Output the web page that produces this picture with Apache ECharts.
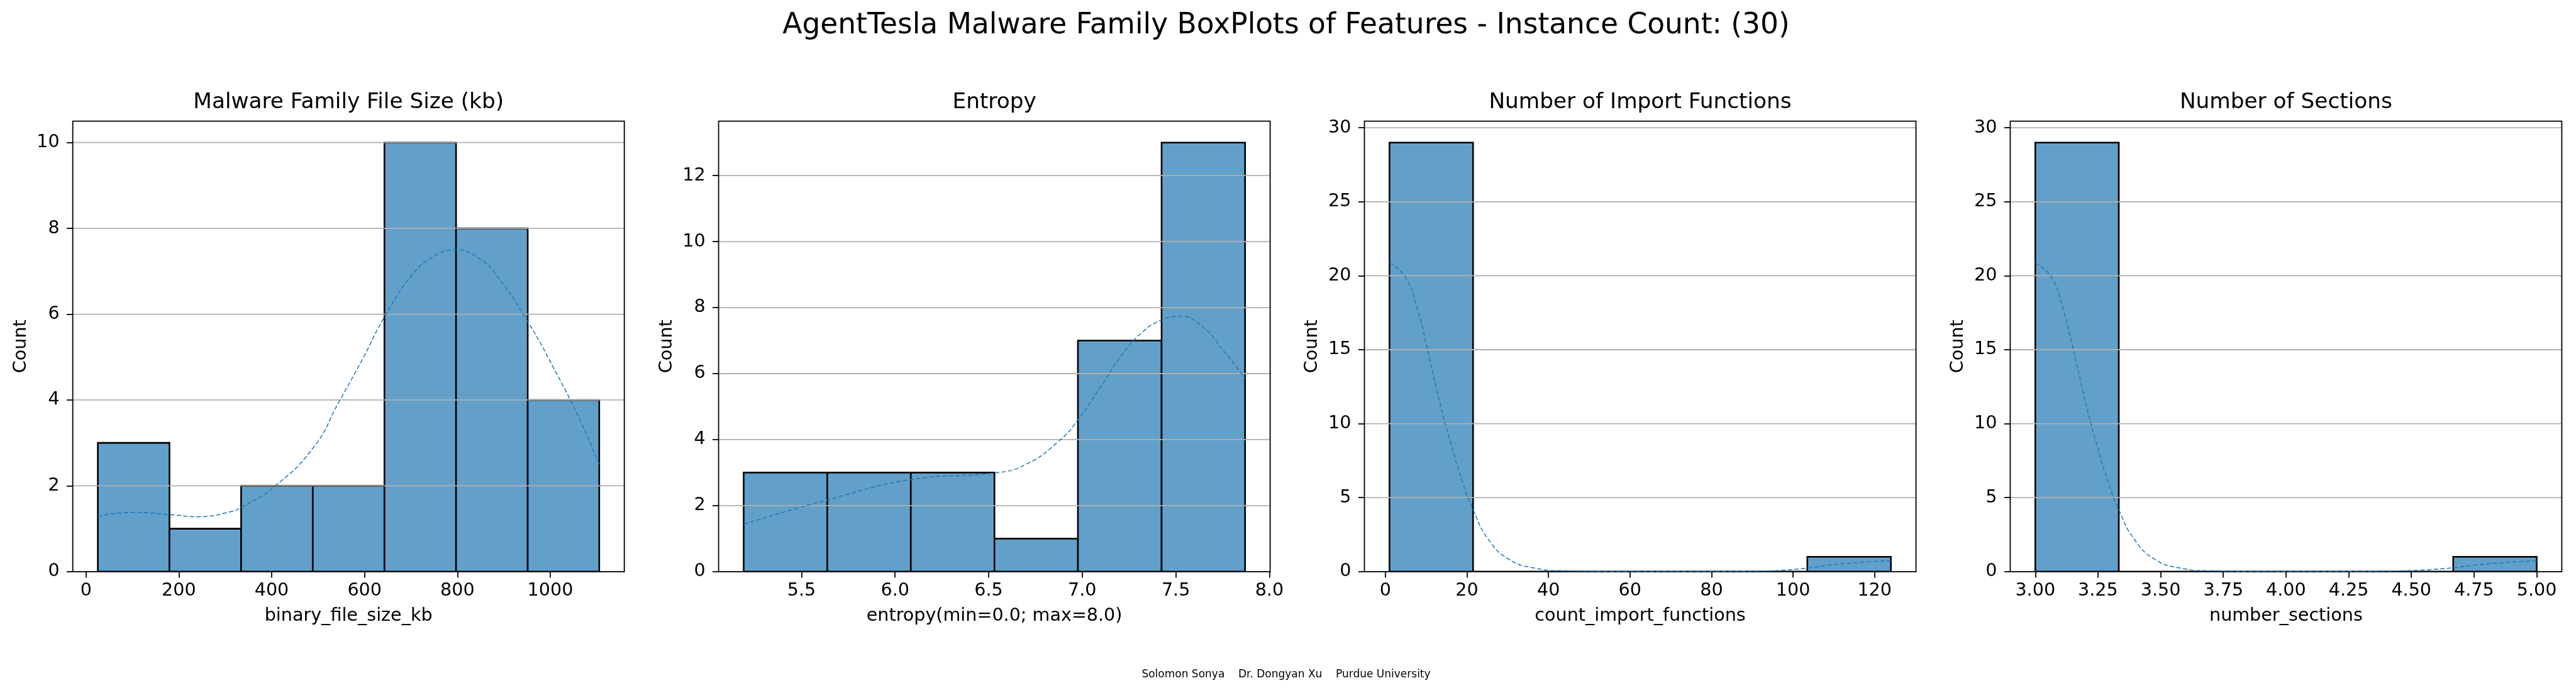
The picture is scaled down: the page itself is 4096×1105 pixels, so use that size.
<!DOCTYPE html>
<html><head><meta charset="utf-8">
<script src="https://cdn.jsdelivr.net/npm/echarts@6/dist/echarts.min.js"></script>
<style>html,body{margin:0;padding:0;background:#fff}#c{width:4096px;height:1105px}</style>
</head><body><div id="c"></div>
<script>
// ---------------- data ----------------
const mainTitle = 'AgentTesla Malware Family BoxPlots of Features - Instance Count: (30)';
const footerText = 'Solomon Sonya    Dr. Dongyan Xu    Purdue University';
const panelTitles = ['Malware Family File Size (kb)', 'Entropy', 'Number of Import Functions', 'Number of Sections'];
const xAxisNames = ['binary_file_size_kb', 'entropy(min=0.0; max=8.0)', 'count_import_functions', 'number_sections'];
const yAxisName = 'Count';

// histogram bin edges and counts
const fileSizeEdges = [25.5, 179.8, 334.1, 488.4, 642.8, 797.1, 951.4, 1105.5];
const fileSizeCounts = [3, 1, 2, 2, 10, 8, 4];
const entropyEdges = [5.191, 5.638, 6.084, 6.531, 6.977, 7.424, 7.870];
const entropyCounts = [3, 3, 3, 1, 7, 13];
const importEdges = [1, 21.5, 42, 62.5, 83, 103.5, 124];
const importCounts = [29, 0, 0, 0, 0, 1];
const sectionsEdges = [3.0, 3.333, 3.667, 4.0, 4.333, 4.667, 5.0];
const sectionsCounts = [29, 0, 0, 0, 0, 1];

// KDE curves
const fileSizeKdeX = [25.5, 100, 180, 242, 313, 335, 402, 489, 545, 598, 643, 705, 750, 796, 840, 885, 953, 1007, 1061, 1105.5];
const fileSizeKdeY = [1.28, 1.38, 1.33, 1.28, 1.40, 1.50, 1.95, 2.88, 3.96, 5.0, 5.94, 6.95, 7.35, 7.50, 7.35, 6.9, 5.8, 4.75, 3.6, 2.5];
const entropyKdeX = [5.191, 5.638, 6.084, 6.532, 6.70, 6.88, 6.977, 7.10, 7.21, 7.32, 7.422, 7.52, 7.63, 7.76, 7.870];
const entropyKdeY = [1.44, 2.17, 2.79, 2.99, 3.25, 3.98, 4.60, 5.61, 6.55, 7.25, 7.62, 7.74, 7.48, 6.66, 5.85];
const importKdeX = [1, 4.9, 8.0, 10.0, 13.1, 16.1, 19.1, 21.5, 25.2, 30.2, 36.4, 43.5, 60, 80, 92, 99, 104, 109.3, 119.4, 124];
const importKdeY = [20.86, 19.9, 17.6, 15.4, 11.7, 8.6, 5.9, 4.19, 2.2, 0.85, 0.25, 0.06, 0.02, 0.02, 0.04, 0.12, 0.26, 0.45, 0.68, 0.73];
const sectionsKdeX = [3.0, 3.064, 3.113, 3.146, 3.197, 3.245, 3.294, 3.333, 3.394, 3.475, 3.575, 3.69, 3.95, 4.25, 4.43, 4.559, 4.667, 4.76, 4.88, 5.0];
const sectionsKdeY = [20.86, 19.9, 17.6, 15.4, 11.7, 8.6, 5.9, 4.19, 2.2, 0.85, 0.25, 0.06, 0.02, 0.02, 0.04, 0.12, 0.26, 0.45, 0.62, 0.73];

// tick labels
const fileSizeTicks = [0, 200, 400, 600, 800, 1000];
const entropyTicks = [5.5, 6.0, 6.5, 7.0, 7.5, 8.0];
const importTicks = [0, 20, 40, 60, 80, 100, 120];
const sectionsTicks = [3.0, 3.25, 3.5, 3.75, 4.0, 4.25, 4.5, 4.75, 5.0];
const countTicksA = [0, 2, 4, 6, 8, 10];
const countTicksB = [0, 2, 4, 6, 8, 10, 12];
const countTicksC = [0, 5, 10, 15, 20, 25, 30];

// ---------------- chart ----------------
const FONT = 'DejaVu Sans';
const FILL = '#62a0ca';
const LINE = '#1f77b4';
const GRIDC = '#b0b0b0';
const panels = [
  {edges: fileSizeEdges, counts: fileSizeCounts, kx: fileSizeKdeX, ky: fileSizeKdeY, xt: fileSizeTicks, yt: countTicksA,
   xmin: -28.5, xmax: 1159.5, ymax: 10.5, yi: 2, fmt: v => String(v)},
  {edges: entropyEdges, counts: entropyCounts, kx: entropyKdeX, ky: entropyKdeY, xt: entropyTicks, yt: countTicksB,
   xmin: 5.057, xmax: 8.004, ymax: 13.65, yi: 2, fmt: v => v.toFixed(1)},
  {edges: importEdges, counts: importCounts, kx: importKdeX, ky: importKdeY, xt: importTicks, yt: countTicksC,
   xmin: -5.15, xmax: 130.15, ymax: 30.45, yi: 5, fmt: v => String(v)},
  {edges: sectionsEdges, counts: sectionsCounts, kx: sectionsKdeX, ky: sectionsKdeY, xt: sectionsTicks, yt: countTicksC,
   xmin: 2.9, xmax: 5.1, ymax: 30.45, yi: 5, fmt: v => v.toFixed(2)}
];

const G_LEFT0 = 115.7, G_STEP = 1026.9, G_W = 877, G_TOP = 192.6, G_H = 716.2;
const grids = [], xAxes = [], yAxes = [], series = [];
const graphics = [
  {type: 'text', x: 2045, y: 41, style: {text: mainTitle, font: '45.5px "DejaVu Sans"', fill: '#000', align: 'center', verticalAlign: 'middle'}},
  {type: 'text', x: 2045, y: 1073, style: {text: footerText, font: '17px "DejaVu Sans"', fill: '#000', align: 'center', verticalAlign: 'middle'}}
];

panels.forEach((p, i) => {
  const left = G_LEFT0 + i * G_STEP;
  grids.push({left: left, top: G_TOP, width: G_W, height: G_H, show: true, borderColor: '#000', borderWidth: 1.8, z: 4});
  graphics.push({type: 'text', x: left + G_W / 2, y: 163, style: {text: panelTitles[i], font: '34.3px "DejaVu Sans"', fill: '#000',
    align: 'center', verticalAlign: 'middle'}});
  xAxes.push({
    type: 'value', gridIndex: i, min: p.xmin, max: p.xmax,
    name: xAxisNames[i], nameLocation: 'middle', nameGap: 56, nameMoveOverlap: false,
    nameTextStyle: {fontFamily: FONT, fontSize: 28.6, color: '#000'},
    axisLine: {show: false, onZero: false},
    axisTick: {show: true, inside: false, length: 9.6, lineStyle: {color: '#000', width: 1.8}, customValues: p.xt},
    axisLabel: {show: true, margin: 16.5, fontFamily: FONT, fontSize: 28.6, color: '#000', customValues: p.xt, formatter: p.fmt},
    splitLine: {show: false}, z: 4
  });
  yAxes.push({
    type: 'value', gridIndex: i, min: 0, max: p.ymax, interval: p.yi,
    name: yAxisName, nameLocation: 'middle', nameGap: 68, nameRotate: 90, nameMoveOverlap: false,
    nameTextStyle: {fontFamily: FONT, fontSize: 28.6, color: '#000'},
    axisLine: {show: false, onZero: false},
    axisTick: {show: true, inside: false, length: 9.6, lineStyle: {color: '#000', width: 1.8}, customValues: p.yt},
    axisLabel: {show: true, margin: 21, fontFamily: FONT, fontSize: 28.6, color: '#000', customValues: p.yt},
    splitLine: {show: false}, z: 4
  });
  // histogram bars
  series.push({
    type: 'custom', xAxisIndex: i, yAxisIndex: i, z: 2, silent: true,
    encode: {x: [0, 1], y: 2},
    data: p.counts.map((c, k) => [p.edges[k], p.edges[k + 1], c]),
    renderItem: (params, api) => {
      const a = api.coord([api.value(0), api.value(2)]);
      const b = api.coord([api.value(1), 0]);
      return {type: 'rect', shape: {x: a[0], y: a[1], width: b[0] - a[0], height: b[1] - a[1]},
              style: {fill: FILL, stroke: '#000', lineWidth: 2.6}};
    }
  });
  // horizontal grid lines (drawn above bars, like matplotlib)
  series.push({
    type: 'custom', xAxisIndex: i, yAxisIndex: i, z: 3, silent: true,
    encode: {y: 0},
    data: p.yt.map(v => [v]),
    renderItem: (params, api) => {
      const cs = params.coordSys;
      const y = api.coord([p.xmin, api.value(0)])[1];
      return {type: 'line', shape: {x1: cs.x, y1: y, x2: cs.x + cs.width, y2: y},
              style: {stroke: GRIDC, lineWidth: 1.8}};
    }
  });
  // KDE curve
  series.push({
    type: 'line', xAxisIndex: i, yAxisIndex: i, z: 5, smooth: 0.5,
    showSymbol: false, symbol: 'none', silent: true, animation: false,
    lineStyle: {color: LINE, width: 1.5, type: [7, 3.5]},
    data: p.kx.map((x, k) => [x, p.ky[k]])
  });
});

const chart = echarts.init(document.getElementById('c'), null, {renderer: 'canvas'});
chart.setOption({
  animation: false,
  backgroundColor: '#ffffff',
  grid: grids, xAxis: xAxes, yAxis: yAxes, series: series,
  graphic: graphics
});
</script></body></html>
